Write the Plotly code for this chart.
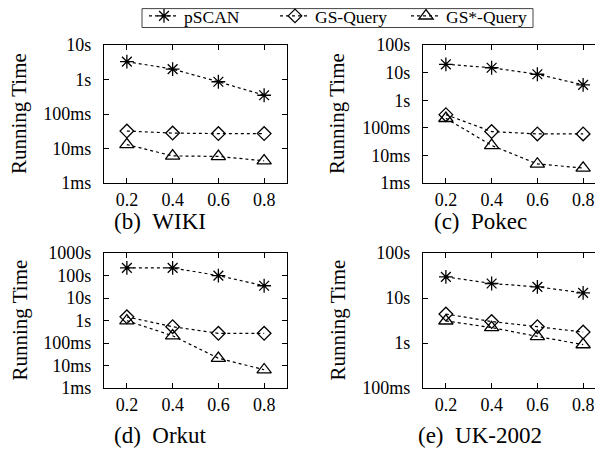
import math
import plotly.graph_objects as go

x_vals = [0.2, 0.4, 0.6, 0.8]
x_labels = ["0.2", "0.4", "0.6", "0.8"]
series_names = ["pSCAN", "GS-Query", "GS*-Query"]

# values in seconds
wiki_pscan = [3.3, 2.0, 0.86, 0.35]
wiki_gs = [0.032, 0.028, 0.027, 0.027]
wiki_gsstar = [0.013, 0.0061, 0.0059, 0.0044]

pokec_pscan = [20.0, 15.0, 8.7, 3.6]
pokec_gs = [0.30, 0.073, 0.060, 0.060]
pokec_gsstar = [0.22, 0.023, 0.0049, 0.0035]

orkut_pscan = [217.0, 217.0, 99.0, 35.0]
orkut_gs = [1.45, 0.53, 0.27, 0.27]
orkut_gsstar = [0.98, 0.21, 0.021, 0.0065]

uk_pscan = [29.5, 21.0, 17.7, 13.0]
uk_gs = [4.4, 3.0, 2.3, 1.75]
uk_gsstar = [3.1, 2.2, 1.4, 0.92]

captions = ["(b)\u00a0\u00a0WIKI", "(c)\u00a0\u00a0Pokec", "(d)\u00a0\u00a0Orkut", "(e)\u00a0\u00a0UK-2002"]

tick_vals_all = [0.001, 0.01, 0.1, 1, 10, 100, 1000]
tick_text_all = ["1ms", "10ms", "100ms", "1s", "10s", "100s", "1000s"]

y_ranges = [(0.001, 10), (0.001, 100), (0.001, 1000), (0.1, 100)]

panels = [
    (wiki_pscan, wiki_gs, wiki_gsstar),
    (pokec_pscan, pokec_gs, pokec_gsstar),
    (orkut_pscan, orkut_gs, orkut_gsstar),
    (uk_pscan, uk_gs, uk_gsstar),
]

W, H = 603, 450
FONT = "Liberation Serif"

# plot frames in figure pixels (left, right, top, bottom)
frames = [
    (96, 279, 37, 175),
    (415, 598, 37, 175),
    (96, 279, 245, 380),
    (415, 598, 245, 380),
]
px_per_unit = 183 / 0.8
caption_pos = [(152, 214), (472, 214), (152, 427), (472, 427)]
title_xs = [11, 329]

symbols = ["asterisk-open", "diamond-open", "triangle-up-open"]
sizes = [11.5, 10.5, 12.5]

fig = go.Figure()
layout = {}
annotations = []

for i, (vals, frame) in enumerate(zip(panels, frames)):
    n = i + 1
    xa = "x" if n == 1 else f"x{n}"
    ya = "y" if n == 1 else f"y{n}"
    for j, (name, v) in enumerate(zip(series_names, vals)):
        fig.add_trace(go.Scatter(
            x=x_vals, y=v, name=name, xaxis=xa, yaxis=ya,
            mode="lines+markers",
            showlegend=(i == 0),
            line=dict(color="black", width=1.2, dash="3px,3px"),
            marker=dict(symbol=symbols[j], size=sizes[j], color="black",
                        line=dict(color="black", width=1.3)),
        ))
    l, r, t, b = frame
    xmax = 0.1 + (r - l) / px_per_unit
    lo, hi = y_ranges[i]
    tv = [v for v in tick_vals_all if lo <= v <= hi]
    tt = [tick_text_all[tick_vals_all.index(v)] + "\u00a0\u2009" for v in tv]
    key = "" if n == 1 else str(n)
    layout[f"xaxis{key}"] = dict(
        domain=[l / W, min(r / W, 1.0)], range=[0.1, xmax], anchor=ya,
        tickvals=x_vals, ticktext=x_labels,
        ticks="inside", ticklen=5, tickwidth=1, tickcolor="black",
        showline=True, linecolor="black", linewidth=1, mirror="allticks",
        showgrid=False, zeroline=False,
        tickfont=dict(family=FONT, size=18, color="black"),
    )
    layout[f"yaxis{key}"] = dict(
        domain=[1 - b / H, 1 - t / H], type="log",
        range=[math.log10(lo), math.log10(hi)], anchor=xa,
        tickvals=tv, ticktext=tt,
        ticks="inside", ticklen=5, tickwidth=1, tickcolor="black",
        showline=True, linecolor="black", linewidth=1, mirror="allticks",
        showgrid=False, zeroline=False,
        tickfont=dict(family=FONT, size=18, color="black"),
    )
    annotations.append(dict(
        text="Running Time", xref="paper", yref="paper",
        x=title_xs[i % 2] / W, y=1 - (t + b) / 2 / H, textangle=-90,
        showarrow=False, xanchor="center", yanchor="middle",
        font=dict(family=FONT, size=21, color="black"),
    ))
    cx, cy = caption_pos[i]
    annotations.append(dict(
        text=captions[i], xref="paper", yref="paper",
        x=cx / W, y=1 - cy / H, showarrow=False,
        xanchor="center", yanchor="middle",
        font=dict(family=FONT, size=23, color="black"),
    ))

# legend frame
legend_box = dict(type="rect", xref="paper", yref="paper",
                  x0=134 / W, x1=525 / W, y0=1 - 19.5 / H, y1=1 - 0.6 / H,
                  line=dict(color="#444444", width=1), layer="below")

fig.update_layout(
    width=W, height=H,
    margin=dict(l=0, r=0, t=0, b=0, autoexpand=False),
    plot_bgcolor="white", paper_bgcolor="white",
    annotations=annotations,
    shapes=[legend_box],
    legend=dict(
        orientation="h", x=136 / W, y=1 + 10 / H, xanchor="left", yanchor="top",
        borderwidth=0, bgcolor="rgba(0,0,0,0)",
        font=dict(family=FONT, size=17.5, color="black"),
        itemwidth=30, entrywidth=86, tracegroupgap=0,
    ),
    **layout,
)

fig.write_html("out.html")
